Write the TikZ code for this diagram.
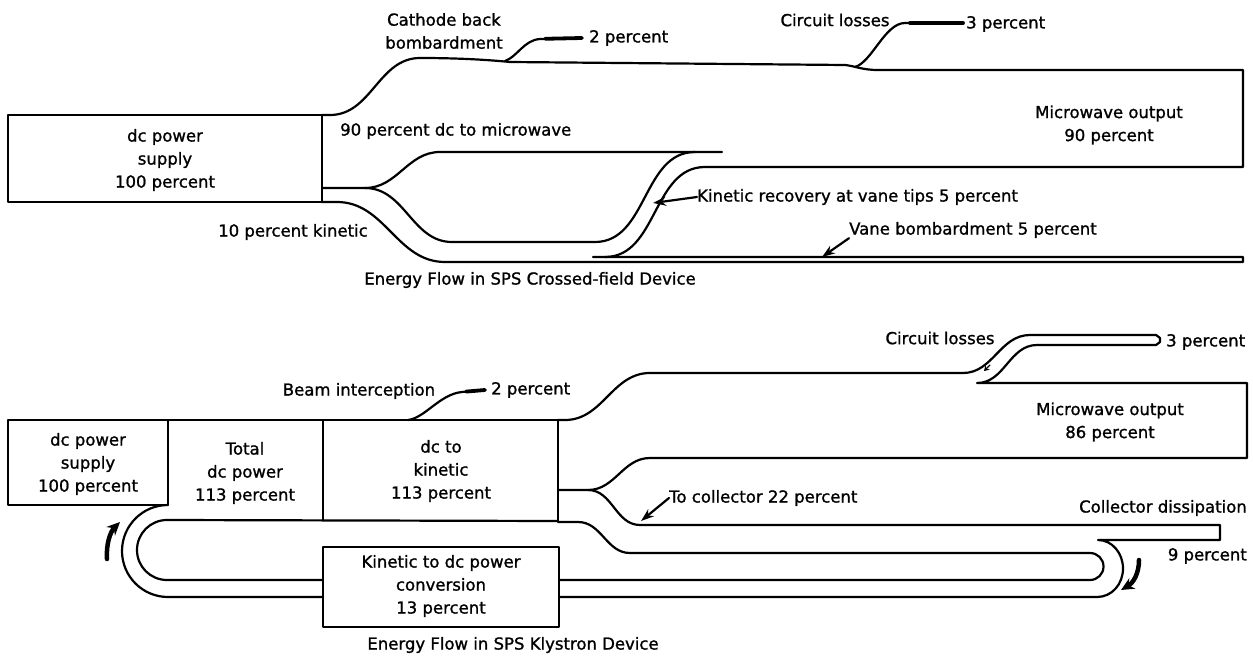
\documentclass[tikz,border=0pt]{standalone}
\usepackage{fontspec}
\setmainfont{DejaVu Sans}[BoldFont={DejaVu Sans}, BoldFeatures={FakeBold=1.2}]
\usetikzlibrary{arrows.meta}
\begin{document}
\begin{tikzpicture}[x=1pt,y=-1pt, line join=round, line cap=round,
  lbl/.style={font=\fontsize{16.5}{23}\selectfont\bfseries, inner sep=0pt, align=center},
  flow/.style={line width=2.2pt},
  lead/.style={line width=2.2pt},
  leadend/.style={line width=3.8pt},
  arr/.style={line width=2.2pt,-{Stealth[length=13pt,width=9pt]}},
  bigarr/.style={line width=4.5pt,-{Stealth[length=13pt,width=12pt]}}]
\path[use as bounding box] (0,0) rectangle (1253,658);

% ---------------- Crossed-field device ----------------
\draw[flow] (8,115) rectangle (322,202);
\draw[flow] (322,115) -- (330,115) to[out=0,in=180] (420,58)
  .. controls (460,58) and (490,60) .. (510,62) -- (845,65)
  .. controls (855,66) and (862,70) .. (878,70) -- (1243,70) -- (1243,167)
  -- (705,167) to[out=180,in=0] (605,257);
\draw[flow] (593,257) -- (1243,257) -- (1243,262) -- (445,262)
  to[out=180,in=0] (337,202) -- (322,202);
\draw[flow] (322,188) -- (365,188) to[out=0,in=180] (440,152) -- (722,152);
\draw[flow] (365,188) to[out=0,in=180] (452,242) -- (595,242)
  to[out=0,in=180] (695,152);

\draw[lead] (505,61) .. controls (517,57) and (524,40) .. (540,39) -- (582,38);
\draw[leadend] (545,38.8) -- (582,38);
\draw[lead] (855,67) .. controls (872,62) and (885,23) .. (905,23) -- (963,23);
\draw[leadend] (910,23) -- (963,23);

\node[lbl] (supA) at (165,160) {dc power\\supply\\100 percent};
\node[lbl] (cathode) at (444,31) {Cathode back\\bombardment};
\node[lbl,anchor=west] (twoA) at (589,38) {2 percent};
\node[lbl] (circA) at (835,20) {Circuit losses};
\node[lbl,anchor=west] (threeA) at (966,24) {3 percent};
\node[lbl,anchor=west] (ninety) at (340,131) {90 percent dc to microwave};
\node[lbl] (mwA) at (1109,125) {Microwave output\\90 percent};
\node[lbl] (kin10) at (293,232) {10 percent kinetic};
\node[lbl,anchor=west] (recov) at (697,197) {Kinetic recovery at vane tips 5 percent};
\node[lbl,anchor=west] (vane) at (849,230) {Vane bombardment 5 percent};
\node[lbl] (capA) at (530,280) {Energy Flow in SPS Crossed-field Device};

\draw[arr] (recov.west) -- (653,203);
\draw[arr] (vane.south west) -- (822,257);

% ---------------- Klystron device ----------------
\draw[flow] (8,420) rectangle (168,505);
\draw[flow] (168,420) -- (558,420) -- (558,521);
\draw[flow] (558,420) -- (565,420) to[out=0,in=180] (650,373) -- (963,373)
  to[out=0,in=180] (1030,335) -- (1156,335) -- (1160,338) -- (1160,342)
  -- (1156,345) -- (1037,345) to[out=180,in=0] (977,383) -- (1247,383)
  -- (1247,458) -- (650,458) to[out=180,in=0] (588,490) -- (558,490);
\draw[flow] (588,490) to[out=0,in=180] (640,525) -- (1220,525) -- (1220,540)
  -- (1098,540) .. controls (1112,540) and (1123,553) .. (1123,568.5)
  .. controls (1123,584) and (1112,597) .. (1097,597) -- (559,597);
\draw[flow] (558,522) -- (578,522) to[out=0,in=180] (630,553) -- (1090,553)
  .. controls (1097.5,553) and (1103.5,559) .. (1103.5,566.5)
  .. controls (1103.5,574) and (1097.5,580) .. (1090,580) -- (559,580);
\draw[flow] (323,420) -- (323,520);
\draw[flow] (558,521) -- (167,520) .. controls (150.4,520) and (137,533.4) .. (137,550)
  .. controls (137,566.6) and (150.4,580) .. (167,580) -- (323,580);
\draw[flow] (168,505) .. controls (142.6,505) and (122,525.6) .. (122,551)
  .. controls (122,576.4) and (142.6,597) .. (168,597) -- (323,597);
\draw[flow] (323,547) rectangle (559,627);

\draw[lead] (408,420) .. controls (425,418) and (440,394) .. (462,392) -- (485,390);
\draw[leadend] (466,391.6) -- (485,390);
\draw[line width=1.2pt,-{Stealth[length=5pt,width=6pt]}] (990,365) -- (984,371);

\node[lbl] (supB) at (88,464) {dc power\\supply\\100 percent};
\node[lbl] (total) at (245,473) {Total\\dc power\\113 percent};
\node[lbl] (dckin) at (441,471) {dc to\\kinetic\\113 percent};
\node[lbl] (kindc) at (441,586) {Kinetic to dc power\\conversion\\13 percent};
\node[lbl] (beam) at (359,391) {Beam interception};
\node[lbl,anchor=west] (twoB) at (491,390) {2 percent};
\node[lbl] (circB) at (940,338) {Circuit losses};
\node[lbl,anchor=west] (threeB) at (1166,342) {3 percent};
\node[lbl] (mwB) at (1110,422) {Microwave output\\86 percent};
\node[lbl,anchor=west] (tocoll) at (669,498) {To collector 22 percent};
\node[lbl,anchor=east] (colld) at (1247,508) {Collector dissipation};
\node[lbl,anchor=east] (nine) at (1247,556) {9 percent};
\node[lbl] (capB) at (513,645) {Energy Flow in SPS Klystron Device};

\draw[arr] (tocoll.west) -- (641,521);
\draw[bigarr] (107,559) .. controls (106,545) and (110,532) .. (120,522);
\draw[bigarr] (1139,560) .. controls (1139,574) and (1133,583) .. (1121,590);
\end{tikzpicture}
\end{document}
